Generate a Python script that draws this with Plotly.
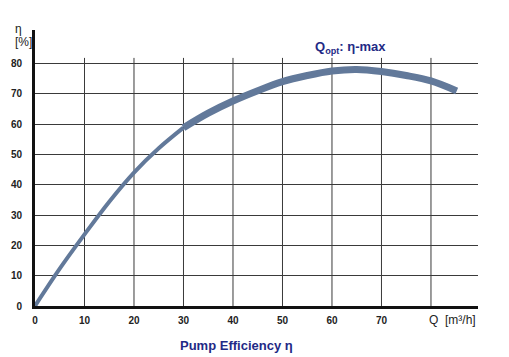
import plotly.graph_objects as go

# Data
q_low = [0, 5, 10, 15, 20, 25, 30]
eta_low = [0, 12.3, 23.6, 34.4, 44.0, 52.0, 58.8]
q_high = [30, 35, 40, 45, 50, 55, 60, 65, 70, 75, 80, 85.2]
eta_high = [58.8, 63.6, 67.6, 71.0, 74.0, 76.0, 77.5, 78.0, 77.3, 76.0, 74.2, 70.9]

x_ticks = [0, 10, 20, 30, 40, 50, 60, 70]
y_ticks = [0, 10, 20, 30, 40, 50, 60, 70, 80]
grid_x = [10, 20, 30, 40, 50, 60, 70, 80]

curve_color = "#62799a"
navy = "#1f2a86"
grid_color = "#3a3a3a"

W, H = 509, 357
L, R, T, B = 35, 31, 30, 51
pw, ph = W - L - R, H - T - B

fig = go.Figure()
fig.add_trace(go.Scatter(x=q_low, y=eta_low, mode="lines",
                         line=dict(color=curve_color, width=4, shape="spline"),
                         hoverinfo="skip", showlegend=False))
fig.add_trace(go.Scatter(x=q_high, y=eta_high, mode="lines",
                         line=dict(color=curve_color, width=7, shape="spline"),
                         hoverinfo="skip", showlegend=False))

shapes = []
for gx in grid_x:
    shapes.append(dict(type="line", xref="x", yref="y", x0=gx, x1=gx, y0=0, y1=81.8,
                       line=dict(color=grid_color, width=1), layer="below"))

tick_font = dict(family="Liberation Sans, Arial", size=10, color="#222", weight="bold")


def pix(px, py):
    return (px - L) / pw, 1 - (py - T) / ph


plain = dict(family="Liberation Sans, Arial", size=12, color="#222")
blue = dict(family="Liberation Sans Narrow, Liberation Sans, Arial", size=13, color=navy)
ann_specs = [
    ("η", 18, 29, plain),
    ("[%]", 23, 42, plain),
    ("Q&nbsp;&nbsp;[m³/h]", 452, 320, plain),
    ("<b>Q<sub>opt</sub>: η-max</b>", 350, 47, blue),
    ("<b>Pump Efficiency η</b>", 236, 345, blue),
]
annotations = []
for text, px, py, f in ann_specs:
    ax, ay = pix(px, py)
    annotations.append(dict(text=text, xref="paper", yref="paper", x=ax, y=ay,
                            xanchor="center", yanchor="middle", showarrow=False, font=f))

fig.update_layout(
    width=W, height=H,
    margin=dict(l=L, r=R, t=T, b=B, autoexpand=False),
    paper_bgcolor="white", plot_bgcolor="white",
    shapes=shapes,
    annotations=annotations,
    xaxis=dict(range=[0, 89.5], tickvals=x_ticks, ticktext=[str(v) for v in x_ticks],
               showgrid=False, zeroline=False, showline=True, linecolor="#111", linewidth=3,
               ticks="", ticklabelstandoff=3, automargin=False, tickfont=tick_font),
    yaxis=dict(range=[0, 91], tickvals=y_ticks, ticktext=[str(v) for v in y_ticks],
               showgrid=True, gridcolor=grid_color, gridwidth=1, zeroline=False,
               showline=True, linecolor="#111", linewidth=3,
               ticks="", ticklabelstandoff=8, automargin=False, tickfont=tick_font),
)

fig.write_html("out.html", config={"displayModeBar": False},
               post_script="document.body.style.margin='0';")
